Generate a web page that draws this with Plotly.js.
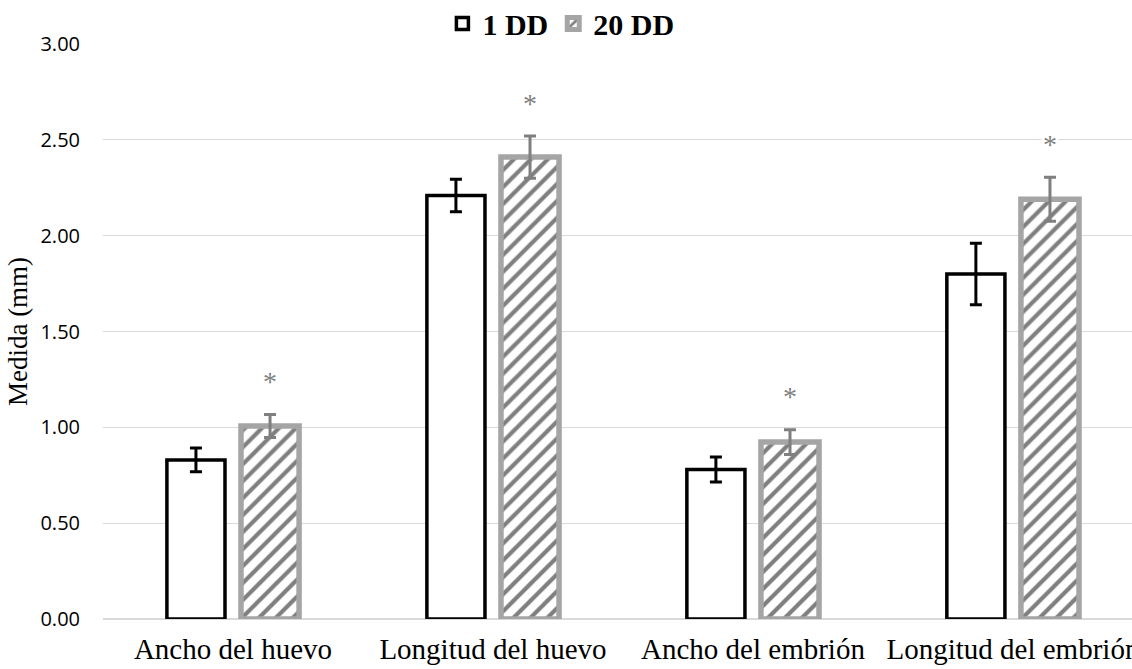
<!DOCTYPE html>
<html>
<head>
<meta charset="utf-8">
<script src="https://cdn.plot.ly/plotly-3.0.1.min.js"></script>
<style>html,body{margin:0;padding:0;background:#fff;}#chart{width:1132px;height:669px;}</style>
</head>
<body>
<div id="chart"></div>
<script>
const categories = ["Ancho del huevo", "Longitud del huevo", "Ancho del embrión", "Longitud del embrión"];
const seriesNames = ["1 DD", "20 DD"];
const dd1 = [0.83, 2.21, 0.78, 1.80];
const dd1Err = [0.062, 0.085, 0.065, 0.16];
const dd20 = [1.007, 2.41, 0.923, 2.19];
const dd20Err = [0.06, 0.11, 0.065, 0.115];
const yTicks = [0, 0.5, 1, 1.5, 2, 2.5, 3];
const yTickLabels = ["0.00", "0.50", "1.00", "1.50", "2.00", "2.50", "3.00"];
const starMark = "*";

const traces = [
  {
    type: "bar", name: seriesNames[0], x: categories, y: dd1,
    marker: {color: "#ffffff", line: {color: "#000000", width: 3.5}},
    error_y: {type: "data", array: dd1Err, visible: true, color: "#000000", thickness: 3, width: 6}
  },
  {
    type: "bar", name: seriesNames[1], x: categories, y: dd20,
    marker: {color: "#ffffff", line: {color: "#a5a5a5", width: 5.5},
      pattern: {shape: "/", fgcolor: "#7f7f7f", bgcolor: "#ffffff", size: 12, solidity: 0.35, fillmode: "replace"}},
    error_y: {type: "data", array: dd20Err, visible: true, color: "#7f7f7f", thickness: 3, width: 6}
  }
];

const annotations = categories.map((c, i) => ({
  xref: "x", yref: "y", x: c, y: dd20[i] + dd20Err[i],
  xshift: 37, yshift: 33, yanchor: "middle", xanchor: "center",
  text: starMark, showarrow: false, bgcolor: "#ffffff",
  font: {family: "Liberation Serif", size: 28, color: "#808080"}
}));

const layout = {
  width: 1132, height: 669,
  margin: {l: 103, r: 0, t: 44, b: 50, autoexpand: false},
  paper_bgcolor: "#ffffff", plot_bgcolor: "#ffffff",
  barmode: "group", bargap: 0.43, bargroupgap: 0.216,
  showlegend: true,
  legend: {orientation: "h", x: 0.445, xanchor: "center", yref: "container", y: 0.965, yanchor: "middle",
    font: {family: "Liberation Serif", size: 30, color: "#000000", weight: "bold"},
    itemwidth: 30, traceorder: "normal"},
  xaxis: {range: [-0.5, 3.458], showgrid: false, showline: false, zeroline: false, ticks: "",
    automargin: false, ticklabelstandoff: 10,
    tickfont: {family: "Liberation Serif", size: 29, color: "#000000"}, fixedrange: true},
  yaxis: {range: [0, 3], tickvals: yTicks, ticktext: yTickLabels, showgrid: true,
    gridcolor: "#d9d9d9", gridwidth: 1.3, zeroline: true, zerolinecolor: "#d9d9d9", zerolinewidth: 1.3,
    showline: false, ticks: "", ticklabelstandoff: 22, automargin: false,
    tickfont: {family: "Open Sans", size: 20, color: "#000000"},
    title: {text: "Medida (mm)", font: {family: "Liberation Serif", size: 27, color: "#000000"}, standoff: 4}},
  annotations: annotations
};

Plotly.newPlot("chart", traces, layout, {displayModeBar: false, staticPlot: true});
</script>
</body>
</html>
